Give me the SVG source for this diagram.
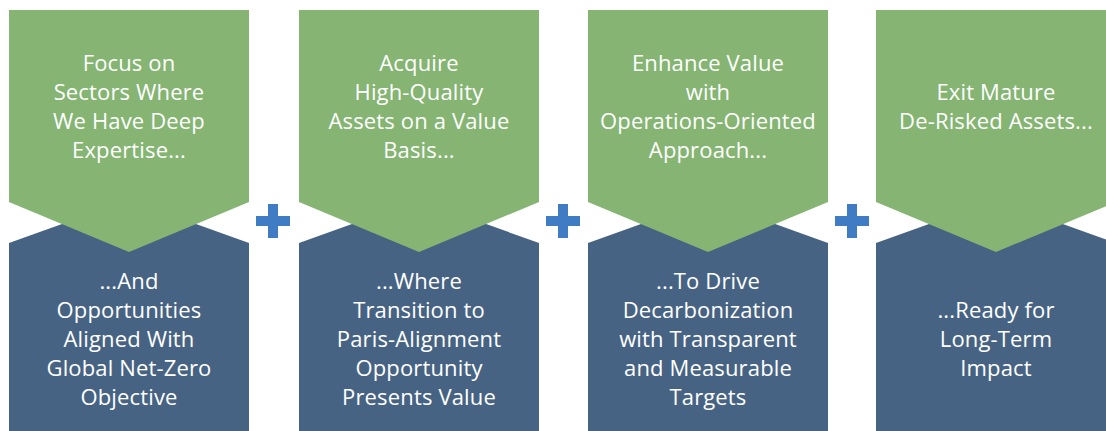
<svg xmlns="http://www.w3.org/2000/svg" width="1106" height="431" viewBox="0 0 1106 431">
<style>
.g{fill:#85b473}
.b{fill:#476383}
.t{font-family:"Open Sans","Liberation Sans",sans-serif;font-size:22px;letter-spacing:0.15px;fill:#ffffff;text-anchor:middle}
.p{fill:#3f7cc4}
</style>
<defs>
<path id="top" d="M0,0 H240 V192 L120,242 L0,192 Z"/>
<path id="bot" d="M0,233 L120,190 L240,233 V421 H0 Z"/>
<path id="plus" d="M-5,-17 H5 V-5 H17 V5 H5 V17 H-5 V5 H-17 V-5 H-5 Z"/>
</defs>
<g id="col1" transform="translate(9,10)">
<use href="#bot" class="b"/>
<use href="#top" class="g"/>
</g>
<g id="col2" transform="translate(299,10)">
<use href="#bot" class="b"/>
<use href="#top" class="g"/>
</g>
<g id="col3" transform="translate(588,10)">
<use href="#bot" class="b"/>
<use href="#top" class="g"/>
</g>
<g id="col4" transform="translate(876,10)">
<use href="#bot" class="b"/>
<use href="#top" class="g"/>
</g>
<g id="connectors">
<use href="#plus" class="p" x="273" y="221"/>
<use href="#plus" class="p" x="563" y="221"/>
<use href="#plus" class="p" x="852" y="221"/>
</g>
<g id="labels" class="t">
<text x="129" y="70.5">Focus on</text>
<text x="129" y="99.5">Sectors Where</text>
<text x="129" y="128.5">We Have Deep</text>
<text x="129" y="157.5">Expertise...</text>
<text x="129" y="289">...And</text>
<text x="129" y="318">Opportunities</text>
<text x="129" y="347">Aligned With</text>
<text x="129" y="376">Global Net-Zero</text>
<text x="129" y="405">Objective</text>

<text x="419" y="70.5">Acquire</text>
<text x="419" y="99.5">High-Quality</text>
<text x="419" y="128.5">Assets on a Value</text>
<text x="419" y="157.5">Basis...</text>
<text x="419" y="289">...Where</text>
<text x="419" y="318">Transition to</text>
<text x="419" y="347">Paris-Alignment</text>
<text x="419" y="376">Opportunity</text>
<text x="419" y="405">Presents Value</text>

<text x="708" y="70.5">Enhance Value</text>
<text x="708" y="99.5">with</text>
<text x="708" y="128.5">Operations-Oriented</text>
<text x="708" y="157.5">Approach...</text>
<text x="708" y="289">...To Drive</text>
<text x="708" y="318">Decarbonization</text>
<text x="708" y="347">with Transparent</text>
<text x="708" y="376">and Measurable</text>
<text x="708" y="405">Targets</text>

<text x="996" y="99.5">Exit Mature</text>
<text x="996" y="128.5">De-Risked Assets...</text>
<text x="996" y="318">...Ready for</text>
<text x="996" y="347">Long-Term</text>
<text x="996" y="376">Impact</text>
</g>
</svg>
